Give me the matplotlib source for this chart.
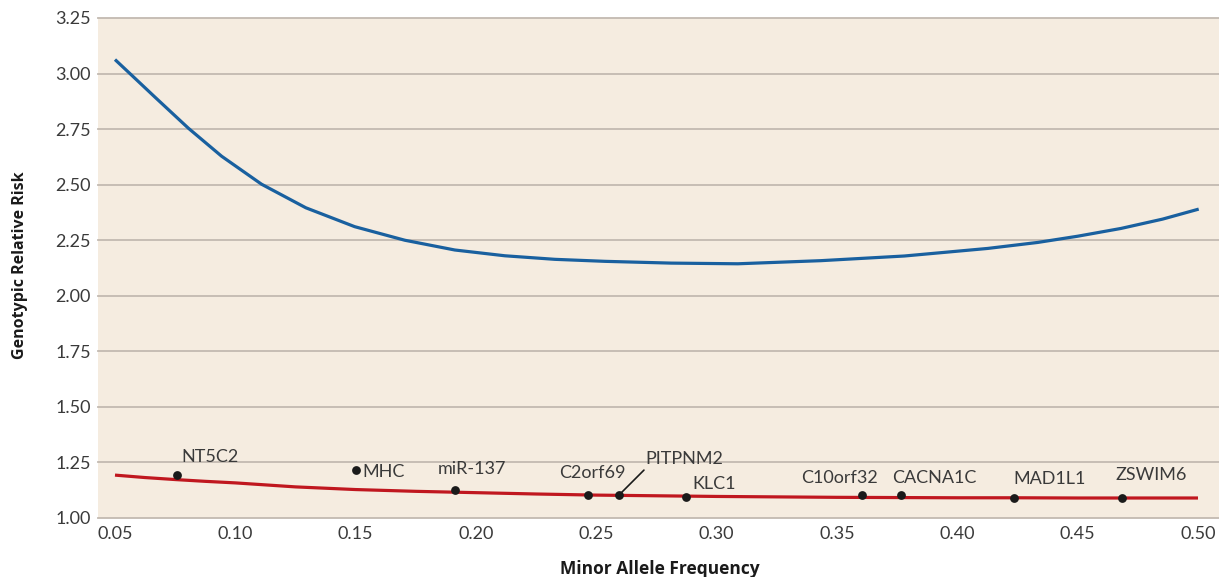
import matplotlib
matplotlib.use("Agg")
import matplotlib.pyplot as plt

# ---- data ----
maf_upper = [0.050, 0.0562, 0.0666, 0.0805, 0.0943, 0.1109, 0.1293, 0.1496, 0.1704,
             0.1912, 0.2120, 0.2328, 0.2536, 0.2811, 0.3088, 0.3433, 0.3780, 0.4126,
             0.4334, 0.4500, 0.4680, 0.4853, 0.5003]
grr_upper = [3.063, 3.000, 2.894, 2.754, 2.628, 2.502, 2.396, 2.311, 2.250,
             2.206, 2.180, 2.164, 2.155, 2.147, 2.144, 2.158, 2.179, 2.213,
             2.240, 2.268, 2.303, 2.345, 2.390]

maf_lower = [0.05, 0.0625, 0.075, 0.0875, 0.10, 0.125, 0.15, 0.175, 0.20, 0.225, 0.25,
             0.275, 0.30, 0.325, 0.35, 0.375, 0.40, 0.425, 0.45, 0.475, 0.50]
grr_lower = [1.193, 1.182, 1.173, 1.165, 1.158, 1.140, 1.128, 1.120, 1.114, 1.108, 1.103,
             1.100, 1.097, 1.095, 1.093, 1.092, 1.091, 1.091, 1.090, 1.090, 1.090]

genes = ["NT5C2", "MHC", "miR-137", "C2orf69", "PITPNM2", "KLC1",
         "C10orf32", "CACNA1C", "MAD1L1", "ZSWIM6"]
gene_maf = [0.0758, 0.150, 0.1912, 0.2465, 0.2594, 0.2872, 0.3604, 0.3766, 0.4236, 0.4684]
gene_grr = [1.193, 1.215, 1.125, 1.103, 1.103, 1.096, 1.103, 1.103, 1.088, 1.088]

yticks = [1.00, 1.25, 1.50, 1.75, 2.00, 2.25, 2.50, 2.75, 3.00, 3.25]
xticks = [0.05, 0.10, 0.15, 0.20, 0.25, 0.30, 0.35, 0.40, 0.45, 0.50]

# label placement (pixel offsets, ha)
label_style = {
    "NT5C2": ((4, 18), "left"),
    "MHC": ((7, -2), "left"),
    "miR-137": ((17, 21), "center"),
    "C2orf69": ((4, 22), "center"),
    "PITPNM2": ((26, 36), "left"),
    "KLC1": ((7, 13), "left"),
    "C10orf32": ((-23, 17), "center"),
    "CACNA1C": ((-9, 17), "left"),
    "MAD1L1": ((-1, 19), "left"),
    "ZSWIM6": ((-6, 23), "left"),
}

plt.rcParams['font.family'] = ['Lato', 'DejaVu Sans']

fig = plt.figure(figsize=(12.19, 5.77), dpi=100)
ax = fig.add_axes([98/1219, 1 - 518/577, 1 - 98/1219, (518 - 18)/577])
bg = "#f5ece0"
ax.set_facecolor(bg)
for s in ax.spines.values():
    s.set_visible(False)

ax.set_xlim(0.04294, 0.50873)
ax.set_ylim(1.0, 3.25)

for yv in yticks:
    ax.axhline(yv, color="#c3bab1", lw=1.3, zorder=1, clip_on=False)

ax.plot(maf_upper, grr_upper, color="#19609f", lw=2.3, zorder=3,
        solid_capstyle="butt", solid_joinstyle="round")
ax.plot(maf_lower, grr_lower, color="#c0171f", lw=2.3, zorder=3,
        solid_capstyle="butt", solid_joinstyle="round")
ax.scatter(gene_maf, gene_grr, s=40, color="#1a1a1a", zorder=4, linewidths=0)

tc = "#3a3a3a"
for g, xv, yv in zip(genes, gene_maf, gene_grr):
    (dx, dy), ha = label_style[g]
    ax.annotate(g, (xv, yv), xytext=(dx, dy), textcoords="offset pixels",
                ha=ha, va="center", fontsize=13, color=tc, zorder=5)
    if g == "PITPNM2":
        ax.annotate("", (xv, yv), xytext=(25, 25), textcoords="offset pixels",
                    arrowprops=dict(arrowstyle="-", color="#1a1a1a", lw=1.2,
                                    shrinkA=0, shrinkB=2), zorder=5)

ax.set_xticks(xticks)
ax.set_xticklabels([f"{v:.2f}" for v in xticks])
ax.set_yticks(yticks)
ax.set_yticklabels([f"{v:.2f}" for v in yticks])
ax.tick_params(axis="both", length=0, labelsize=13, colors=tc)
ax.tick_params(axis="x", pad=6)
ax.tick_params(axis="y", pad=5)

fig.text(660/1219, 1 - 569/577, "Minor Allele Frequency", ha="center", va="center",
         fontsize=12.5, fontweight="bold", color="#1a1a1a",
         family=["Open Sans", "DejaVu Sans"])
fig.text(20/1219, 1 - 265/577, "Genotypic Relative Risk", ha="center", va="center",
         rotation=90, fontsize=11.5, fontweight="bold", color="#1a1a1a",
         family=["Open Sans", "DejaVu Sans"])

fig.savefig("out.png", dpi=100, facecolor="white")
